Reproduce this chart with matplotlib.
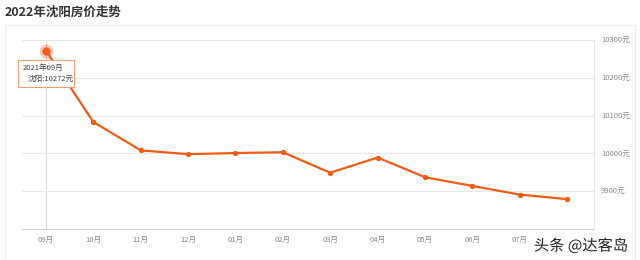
import matplotlib.pyplot as plt
import matplotlib.patheffects as pe
from matplotlib.patches import Rectangle

plt.rcParams['font.family'] = ['Noto Sans CJK SC', 'DejaVu Sans']

months = ['09月', '10月', '11月', '12月', '01月', '02月', '03月', '04月',
          '05月', '06月', '07月', '08月']
prices = [10272, 10083, 10008, 9998, 10001, 10003, 9949, 9989, 9937, 9914, 9891, 9879]
y_ticks = [9900, 10000, 10100, 10200, 10300]
y_labels = ['9900元', '10000元', '10100元', '10200元', '10300元']

line_color = '#f25c16'
grid_color = '#e8e8e8'
label_color = '#8a8a8a'

fig = plt.figure(figsize=(6.4, 2.6), dpi=100)

# card border
fig.patches.append(Rectangle((5 / 640, 0), 630 / 640, 1 - 25 / 260,
                             transform=fig.transFigure, fill=False,
                             edgecolor='#eeeeee', linewidth=0.8))
fig.text(5 / 640, 1 - 12 / 260, '2022年沈阳房价走势', fontsize=9,
         fontweight='bold', color='#333333', va='center', ha='left')

ax = fig.add_axes([22 / 640, 1 - 229 / 260, 572 / 640, 189 / 260])
x = list(range(len(months)))
ax.plot(x, prices, color=line_color, linewidth=1.6, marker='o', markersize=2.8, zorder=3)
ax.set_xlim(-0.507, 11.57)
ax.set_ylim(9800, 10300)

ax.set_yticks(y_ticks)
ax.set_yticklabels(y_labels)
ax.yaxis.tick_right()
ax.tick_params(axis='y', length=0, pad=5, labelsize=5.5, labelcolor=label_color)
ax.set_xticks(x)
ax.set_xticklabels(months)
ax.tick_params(axis='x', length=0, pad=5, labelsize=5.5, labelcolor=label_color)
# the last month label sits under the watermark in the original
ax.get_xticklabels()[-1].set_visible(False)
ax.grid(axis='y', color=grid_color, linewidth=0.8)

for side in ['top', 'left']:
    ax.spines[side].set_visible(False)
ax.spines['right'].set_color(grid_color)
ax.spines['bottom'].set_color('#d0d0d0')

# tooltip crosshair and highlighted point
ax.axvline(0, color='#d8d8d8', linewidth=0.8, zorder=1)
ax.plot([0], [prices[0]], 'o', color=line_color, markersize=9, alpha=0.25, zorder=4)
ax.plot([0], [prices[0]], 'o', color=line_color, markersize=5, zorder=5)

fig.patches.append(Rectangle((18 / 640, 1 - 87 / 260), 56 / 640, 27 / 260,
                             transform=fig.transFigure, facecolor='white',
                             edgecolor='#f0a070', linewidth=0.8, zorder=10))
fig.text(23 / 640, 1 - 68 / 260, '2021年09月', fontsize=5.5, color='#444444',
         va='center', ha='left', zorder=11)
fig.text(28 / 640, 1 - 79 / 260, '沈阳:10272元', fontsize=5.5, color='#444444',
         va='center', ha='left', zorder=11)

# watermark
fig.text(628 / 640, 1 - 246 / 260, '头条 @达客岛', fontsize=11, color='#222222',
         ha='right', va='center',
         path_effects=[pe.withStroke(linewidth=2.5, foreground='white')])

fig.savefig('out.png', dpi=100)
